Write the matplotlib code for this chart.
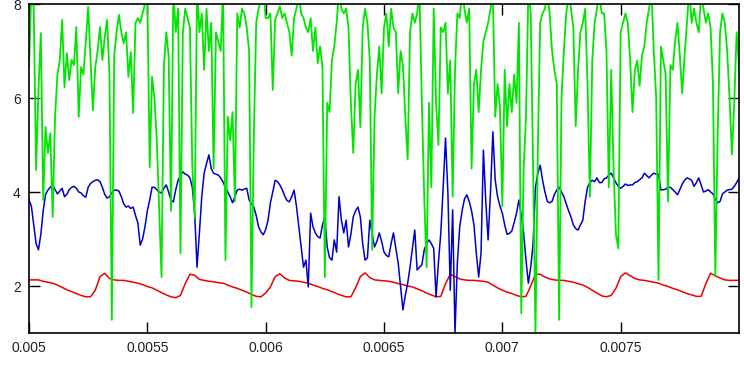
import numpy as np
import matplotlib
matplotlib.use("Agg")
import matplotlib.pyplot as plt

plt.rcParams['font.family'] = ['Liberation Sans', 'DejaVu Sans']

# time axis (seconds); three traces sampled on a uniform grid
t_fine = np.linspace(0.005, 0.008, 301)
t_coarse = np.linspace(0.005, 0.008, 151)

green_trace = [
    6.66, 8.3, 7.9, 4.47, 6.17, 7.38, 3.83, 5.38, 4.83, 5.25,
    3.47, 5.6, 6.5, 6.8, 7.66, 6.23, 6.95, 6.38, 6.81, 6.7,
    7.51, 5.6, 6.66, 6.5, 7.2, 7.94, 6.81, 5.74, 6.66, 7.0,
    7.51, 6.81, 7.3, 7.66, 6.5, 1.28, 6.9, 7.4, 7.77, 7.4,
    7.16, 7.4, 6.45, 6.98, 5.68, 7.6, 7.7, 7.6, 7.8, 8.0,
    8.2, 4.53, 6.45, 6.0, 5.1, 3.62, 2.19, 6.66, 7.4, 6.9,
    3.6, 8.3, 7.4, 7.9, 2.7, 7.38, 7.9, 7.7, 7.5, 4.55,
    3.45, 8.3, 7.4, 7.8, 6.6, 7.9, 7.0, 7.6, 4.5, 7.4,
    7.2, 7.0, 8.3, 2.55, 5.6, 5.1, 5.7, 3.8, 7.8, 7.5,
    7.9, 7.8, 7.5, 7.0, 1.55, 5.2, 7.6, 7.9, 8.1, 8.3,
    7.7, 7.7, 7.8, 6.17, 7.66, 7.8, 7.95, 7.7, 7.8, 7.6,
    7.4, 6.9, 7.7, 7.9, 8.2, 7.8, 7.7, 7.5, 7.4, 7.7,
    7.0, 7.5, 6.74, 7.1, 6.66, 2.19, 5.9, 5.7, 6.8, 7.1,
    7.6, 8.3, 7.9, 7.8, 7.9, 7.5, 5.9, 4.83, 6.3, 6.6,
    5.38, 7.5, 7.9, 7.6, 6.8, 2.77, 5.6, 6.5, 7.1, 6.1,
    7.5, 7.8, 7.1, 7.9, 7.5, 7.4, 6.1, 7.0, 6.7, 5.6,
    4.7, 7.4, 7.8, 7.6, 7.8, 8.2, 5.9, 3.9, 2.4, 5.9,
    4.1, 7.9, 5.9, 5.0, 7.5, 7.4, 7.6, 6.1, 6.8, 3.9,
    6.6, 7.8, 7.7, 8.3, 7.9, 7.6, 7.9, 4.5, 6.3, 6.6,
    5.7, 6.6, 7.2, 7.4, 7.6, 7.9, 8.2, 5.6, 6.3, 5.8,
    3.7, 6.6, 5.4, 6.3, 5.7, 6.5, 5.9, 7.6, 1.42, 4.5,
    5.6, 8.3, 7.8, 4.5, 1.0, 4.9, 7.6, 7.8, 7.9, 8.2,
    7.8, 7.0, 6.6, 6.3, 1.28, 6.0, 7.0, 7.8, 8.2, 7.9,
    7.5, 5.4, 6.6, 7.4, 7.6, 7.9, 6.3, 3.9, 6.8, 7.6,
    7.9, 8.2, 7.8, 7.8, 7.0, 4.1, 6.6, 4.5, 3.1, 2.8,
    7.4, 7.6, 7.8, 7.6, 6.8, 5.7, 6.6, 6.8, 6.26, 6.9,
    7.1, 7.6, 7.9, 8.3, 7.0, 6.0, 2.13, 7.1, 6.8, 6.5,
    3.8, 6.7, 6.6, 7.2, 7.6, 6.9, 6.1, 6.9, 7.6, 8.3,
    7.6, 7.9, 7.6, 7.4, 8.2, 7.9, 7.6, 7.8, 7.5, 6.3,
    2.2, 5.25, 7.4, 7.8, 7.6, 7.0, 6.0, 4.8, 5.9, 7.4,
    6.7,
]

blue_trace = [
    3.83, 3.7, 3.3, 2.9, 2.77, 3.1, 3.6, 3.95, 4.04, 4.1,
    4.15, 4.05, 3.96, 4.02, 4.08, 3.9, 3.95, 4.05, 4.1, 4.12,
    4.08, 4.0, 3.98, 3.92, 3.89, 4.1, 4.18, 4.22, 4.25, 4.26,
    4.22, 4.1, 3.95, 3.87, 3.9, 3.98, 4.04, 4.04, 4.02, 3.9,
    3.75, 3.68, 3.7, 3.65, 3.68, 3.5, 3.34, 2.87, 3.0, 3.26,
    3.6, 3.83, 4.1, 4.1, 4.05, 4.0, 3.98, 4.08, 4.15, 4.0,
    3.82, 3.79, 4.05, 4.25, 4.35, 4.43, 4.38, 4.36, 4.3, 4.1,
    3.55, 2.4, 3.13, 3.9, 4.4, 4.6, 4.79, 4.5, 4.4, 4.38,
    4.36, 4.3, 4.21, 4.1, 4.0, 3.9, 3.77, 3.9, 4.04, 4.06,
    4.04, 4.06, 4.08, 3.83, 3.75, 3.68, 3.5, 3.26, 3.15, 3.09,
    3.2, 3.4, 3.77, 4.0, 4.25, 4.22, 4.15, 4.05, 3.92, 3.82,
    3.79, 3.9, 4.04, 3.7, 3.26, 2.8, 2.4, 2.55, 1.98, 3.55,
    3.26, 3.13, 3.05, 3.02, 3.3, 3.47, 2.83, 2.6, 2.55, 2.98,
    2.72, 3.9, 3.4, 3.13, 3.4, 2.83, 3.1, 3.47, 3.6, 3.68,
    3.47, 2.9, 2.55, 2.6, 3.4, 3.1, 2.83, 2.95, 3.13, 2.95,
    2.72, 2.65, 2.62, 2.9, 3.13, 2.8, 2.49, 2.0, 1.49, 1.8,
    2.06, 2.4, 2.8, 3.19, 2.34, 2.4, 2.45, 2.77, 2.9, 2.98,
    2.9, 2.8, 1.77, 2.5, 3.13, 4.1, 5.15, 3.98, 1.91, 3.62,
    1.0, 2.5, 3.26, 3.6, 3.85, 3.94, 3.8, 3.6, 3.3, 2.7,
    2.19, 2.7, 4.89, 3.8, 2.98, 4.0, 5.28, 4.25, 3.9, 3.7,
    3.55, 3.3, 3.1, 3.12, 3.17, 3.35, 3.55, 3.83, 3.5, 3.13,
    2.55, 2.06, 2.4, 2.9, 4.1, 4.4, 4.57, 4.25, 4.0, 3.8,
    3.77, 3.8, 3.95, 4.04, 4.1, 4.0, 3.9, 3.75, 3.6, 3.47,
    3.3, 3.22, 3.19, 3.3, 3.4, 3.8, 4.1, 4.2, 4.25, 4.22,
    4.3, 4.2, 4.2, 4.28, 4.3, 4.36, 4.4, 4.3, 4.2, 4.12,
    4.08, 4.12, 4.17, 4.14, 4.15, 4.15, 4.2, 4.22, 4.26, 4.3,
    4.4, 4.35, 4.3, 4.36, 4.4, 4.38, 4.38, 4.04, 4.05, 4.06,
    4.1, 4.1, 4.05, 4.0, 3.94, 4.05, 4.17, 4.25, 4.3, 4.28,
    4.25, 4.12, 4.2, 4.3, 4.15, 4.0, 4.02, 4.05, 4.0, 3.96,
    3.85, 3.77, 3.8, 3.96, 4.0, 4.04, 4.05, 4.06, 4.12, 4.2,
    4.3,
]

red_trace = [
    2.13, 2.13, 2.13, 2.1, 2.08, 2.06, 2.02, 1.97, 1.92, 1.88,
    1.84, 1.8, 1.77, 1.77, 1.91, 2.2, 2.27, 2.16, 2.13, 2.12,
    2.12, 2.1, 2.08, 2.06, 2.03, 1.99, 1.96, 1.91, 1.86, 1.81,
    1.77, 1.75, 1.8, 2.05, 2.25, 2.23, 2.14, 2.12, 2.1, 2.09,
    2.07, 2.06, 2.02, 1.98, 1.95, 1.91, 1.87, 1.82, 1.78, 1.77,
    1.85, 1.98, 2.2, 2.26, 2.17, 2.12, 2.11, 2.1, 2.08, 2.06,
    2.02, 1.99, 1.95, 1.92, 1.88, 1.84, 1.8, 1.77, 1.77, 1.96,
    2.2, 2.28, 2.18, 2.13, 2.12, 2.11, 2.1, 2.08, 2.05, 2.03,
    2.0, 1.98, 1.94, 1.9, 1.85, 1.81, 1.77, 1.78, 2.05, 2.25,
    2.2, 2.15, 2.13, 2.12, 2.12, 2.11, 2.1, 2.08, 2.02, 1.96,
    1.91, 1.87, 1.84, 1.8, 1.77, 1.78, 2.0, 2.25, 2.25, 2.19,
    2.15, 2.13, 2.12, 2.12, 2.1, 2.08, 2.05, 2.02, 1.97, 1.91,
    1.85, 1.79, 1.77, 1.8, 1.95, 2.2, 2.28, 2.22, 2.16, 2.13,
    2.12, 2.1, 2.08, 2.06, 2.02, 1.99, 1.95, 1.92, 1.88, 1.84,
    1.81, 1.78, 1.78, 2.05, 2.27, 2.22, 2.17, 2.13, 2.12, 2.12,
    2.12,
]

x_ticks = [0.005, 0.0055, 0.006, 0.0065, 0.007, 0.0075]
x_labels = ['0.005', '0.0055', '0.006', '0.0065', '0.007', '0.0075']
y_ticks = [2, 4, 6, 8]

fig = plt.figure(figsize=(7.44, 3.66), dpi=100, facecolor='white')
ax = fig.add_axes([29/744, 1-333/366, 710/744, 329/366])

ax.plot(t_coarse, red_trace, color='#ee0000', linewidth=1.1)
ax.plot(t_fine, blue_trace, color='#0000cc', linewidth=1.1)
ax.plot(t_fine, green_trace, color='#00e600', linewidth=1.3)

ax.set_xlim(0.005, 0.008)
ax.set_ylim(1, 8)
ax.set_xticks(x_ticks)
ax.set_xticklabels(x_labels)
ax.set_yticks(y_ticks)

ax.tick_params(direction='in', length=8, width=1.0, top=True, right=True,
               labelsize=10, colors='black', labelcolor='#222222', pad=6)
for s in ax.spines.values():
    s.set_linewidth(1.2)
    s.set_color('black')

fig.savefig('out.png', dpi=100)
